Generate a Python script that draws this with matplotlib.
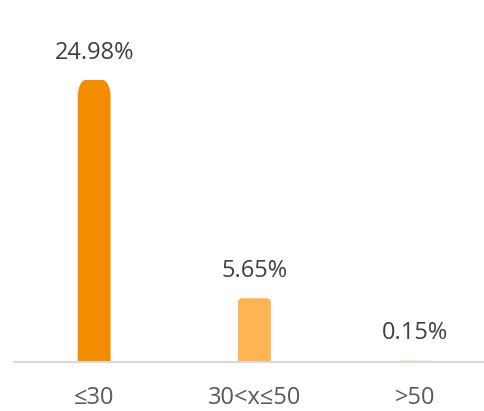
import matplotlib
matplotlib.use("Agg")
import matplotlib.pyplot as plt
from matplotlib.path import Path
from matplotlib.patches import PathPatch

categories = ["≤30", "30<x≤50", ">50"]
values = [24.98, 5.65, 0.15]
labels = ["24.98%", "5.65%", "0.15%"]
colors = ["#F28C00", "#FFB453", "#FBE3B0"]

W, H = 484, 411
fig = plt.figure(figsize=(W / 100, H / 100), dpi=100)
ax = fig.add_axes([14 / W, 49 / H, 481 / W, 362 / H])
ax.set_xlim(-0.5, 2.5)
ax.set_ylim(0, 362 / (282 / 24.98))

bw = 0.205
for i, (v, c) in enumerate(zip(values, colors)):
    x0, x1 = i - bw / 2, i + bw / 2
    ry = v * 0.06
    rx = min(0.05, 0.05 * v / 10)
    k = 0.5523
    verts = [(x0, 0), (x0, v - ry),
             (x0, v - ry + k * ry), (x0 + rx - k * rx, v), (x0 + rx, v),
             (x1 - rx, v),
             (x1 - rx + k * rx, v), (x1, v - ry + k * ry), (x1, v - ry),
             (x1, 0), (x0, 0)]
    codes = [Path.MOVETO, Path.LINETO,
             Path.CURVE4, Path.CURVE4, Path.CURVE4,
             Path.LINETO,
             Path.CURVE4, Path.CURVE4, Path.CURVE4,
             Path.LINETO, Path.CLOSEPOLY]
    ax.add_patch(PathPatch(Path(verts, codes), facecolor=c, edgecolor="none", zorder=2))
    ax.annotate(labels[i], (i, v), xytext=(0, 19.5), textcoords="offset points",
                ha="center", va="center", fontsize=17, color="#404040",
                family="Open Sans")

ax.set_xticks(range(len(categories)))
ax.set_xticklabels(categories, fontsize=17, color="#595959", family="Open Sans")
ax.tick_params(axis="x", length=0, pad=17.5)
ax.set_yticks([])
for s in ["top", "right", "left"]:
    ax.spines[s].set_visible(False)
ax.spines["bottom"].set_color("#D9D9D9")
ax.spines["bottom"].set_linewidth(1.5)
ax.spines["bottom"].set_zorder(3)

fig.savefig("out.png", dpi=100)
